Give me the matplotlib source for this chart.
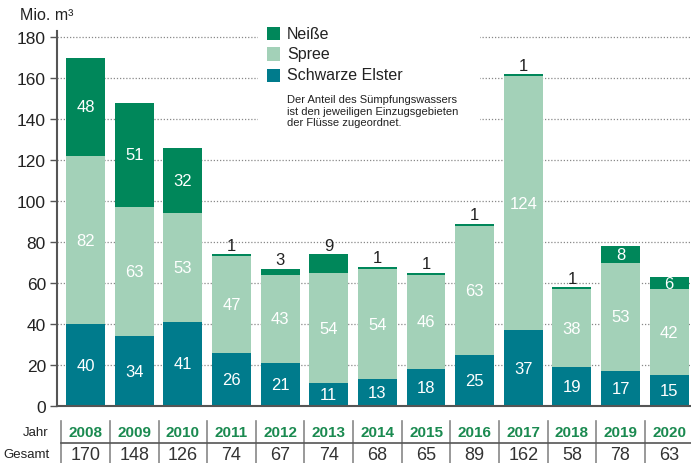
import matplotlib
matplotlib.use("Agg")
import matplotlib.pyplot as plt
from matplotlib.patches import Rectangle
import numpy as np

# Daten (Mio. m³)
jahre = ["2008", "2009", "2010", "2011", "2012", "2013", "2014",
         "2015", "2016", "2017", "2018", "2019", "2020"]
schwarze_elster = [40, 34, 41, 26, 21, 11, 13, 18, 25, 37, 19, 17, 15]
spree = [82, 63, 53, 47, 43, 54, 54, 46, 63, 124, 38, 53, 42]
neisse = [48, 51, 32, 1, 3, 9, 1, 1, 1, 1, 1, 8, 6]
gesamt = [170, 148, 126, 74, 67, 74, 68, 65, 89, 162, 58, 78, 63]
# Neiße-Wert im Balken (True) oder darüber (False)
neisse_innen = [True, True, True, False, False, False, False,
                False, False, False, False, True, True]

c_neisse = "#00875a"
c_spree = "#a3d1b8"
c_elster = "#007b8c"
c_jahr = "#1a8a50"
c_text = "#222222"

plt.rcParams['font.family'] = ['Liberation Sans', 'DejaVu Sans']

W, H = 691, 464
fig = plt.figure(figsize=(W / 100, H / 100), dpi=100)
ax = fig.add_axes([57 / W, 1 - 407 / H, 1 - 57 / W, (407 - 32) / H])

x = np.arange(len(jahre))
ax.bar(x, schwarze_elster, width=0.8, color=c_elster, zorder=2)
ax.bar(x, spree, width=0.8, bottom=schwarze_elster, color=c_spree, zorder=2)
unten2 = np.array(schwarze_elster) + np.array(spree)
ax.bar(x, neisse, width=0.8, bottom=unten2, color=c_neisse, zorder=2)

for i in x:
    ax.text(i, schwarze_elster[i] / 2, str(schwarze_elster[i]), ha="center",
            va="center", color="white", fontsize=12, zorder=3)
    ax.text(i, schwarze_elster[i] + spree[i] / 2, str(spree[i]), ha="center",
            va="center", color="white", fontsize=12, zorder=3)
    if neisse_innen[i]:
        ax.text(i, unten2[i] + neisse[i] / 2, str(neisse[i]), ha="center",
                va="center", color="white", fontsize=12, zorder=3)
    else:
        ax.annotate(str(neisse[i]), (i, unten2[i] + neisse[i]), xytext=(0, 1),
                    textcoords="offset points", ha="center", va="bottom",
                    color=c_text, fontsize=12, zorder=3)

ax.set_xlim(-0.59, 12.45)
ax.set_ylim(0, 183)
ax.set_yticks(range(0, 181, 20))
ax.set_xticks([])
ax.tick_params(axis="y", length=5, width=1, color="#555555", pad=3,
               labelsize=12.5, labelcolor=c_text)
ax.set_axisbelow(True)
ax.yaxis.grid(True, linestyle=(0, (1, 1.5)), color="#888888", linewidth=0.9)
for s in ["top", "right"]:
    ax.spines[s].set_visible(False)
ax.spines["left"].set_color("#555555")
ax.spines["left"].set_linewidth(1.5)
ax.spines["bottom"].set_color("#555555")
ax.spines["bottom"].set_linewidth(1.5)

fig.text(20 / W, 1 - 15 / H, "Mio. m³", fontsize=11.5, color=c_text,
         ha="left", va="center")

# Legende
ax.add_patch(Rectangle((258 / W, 1 - 135 / H), (480 - 258) / W, (135 - 22) / H,
                       transform=fig.transFigure, facecolor="white",
                       edgecolor="none", zorder=1))
for name, col, yc in [("Neiße", c_neisse, 34.5), ("Spree", c_spree, 55),
                      ("Schwarze Elster", c_elster, 76)]:
    fig.patches.append(Rectangle((267 / W, 1 - (yc + 6.5) / H), 13 / W, 13 / H,
                                 transform=fig.transFigure, facecolor=col,
                                 edgecolor="none"))
    fig.text(287 / W, 1 - yc / H, name, fontsize=11.5, color=c_text,
             ha="left", va="center")
fig.text(287 / W, 1 - 95 / H,
         "Der Anteil des Sümpfungswassers\nist den jeweiligen Einzugsgebieten\n"
         "der Flüsse zugeordnet.", fontsize=8, color=c_text, ha="left",
         va="top", linespacing=1.2)

# Tabelle unten
tr = ax.get_xaxis_transform()
ah = 407 - 32
def ay(py):
    return (407 - py) / ah

for i in x:
    ax.text(i, ay(433), jahre[i], transform=tr, ha="center", va="center",
            color=c_jahr, fontsize=11, fontweight="bold", clip_on=False)
    ax.text(i, ay(455), str(gesamt[i]), transform=tr, ha="center",
            va="center", color="#333333", fontsize=13, clip_on=False)
    ax.plot([i - 0.5, i - 0.5], [ay(422), ay(464)], transform=tr,
            color="#888888", linewidth=1.2, clip_on=False)
ax.plot([-0.5, 12.45], [ay(444), ay(444)], transform=tr, color="#555555",
        linewidth=1.2, clip_on=False)
fig.text(48 / W, 1 - 433 / H, "Jahr", ha="right", va="center", fontsize=9.5,
         color=c_text)
fig.text(50 / W, 1 - 455 / H, "Gesamt", ha="right", va="center",
         fontsize=9.5, color=c_text)

fig.savefig("out.png", dpi=100)
